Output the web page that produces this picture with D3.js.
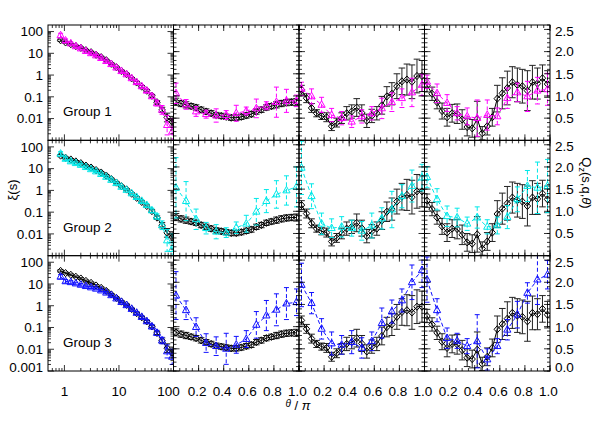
<!DOCTYPE html>
<html><head><meta charset="utf-8">
<script src="https://cdn.jsdelivr.net/npm/d3@7"></script>
<style>
body{margin:0;background:#fff}
svg{display:block}
text{font-family:"Liberation Sans",Arial,Helvetica,sans-serif;fill:#000}
</style>
</head><body>
<svg id="c" width="598" height="427"></svg>
<script>
// ---------------- DATA ----------------
const groupNames = ["Group 1", "Group 2", "Group 3"];
const groupColors = ["#ff00ff", "#00e8e8", "#1010ff"];

// separation s for the xi(s) column
const sValues = [0.851,1.05,1.31,1.62,2.00,2.48,3.08,3.81,4.72,5.85,7.24,8.97,11.1,13.8,17.1,21.1,26.2,32.4,40.2,49.8,61.7,76.4,94.6];
// reference (black) xi(s) - same in every row
const xiRef    = [39.8,31.6,26.3,21.4,17.8,13.8,11.2,8.51,6.61,4.79,3.31,2.29,1.55,1.10,0.708,0.457,0.295,0.191,0.112,0.0562,0.0251,0.0112,0.00708];
const xiRefErr = [0.05,0.04,0.04,0.04,0.04,0.04,0.04,0.04,0.04,0.04,0.04,0.04,0.04,0.04,0.04,0.05,0.05,0.05,0.06,0.08,0.12,0.2,0.25];
// groups xi(s)
const xiGroup1    = [66.1,38.0,28.2,20.9,16.6,12.6,10.0,7.94,6.03,4.37,3.16,2.19,1.51,1.07,0.708,0.468,0.302,0.191,0.105,0.0501,0.0251,0.00501,0.00251];
const xiGroup1Err = [0.1,0.08,0.07,0.06,0.06,0.05,0.05,0.05,0.05,0.05,0.05,0.05,0.05,0.05,0.05,0.06,0.06,0.08,0.1,0.12,0.2,0.45,0.6];
const xiGroup2    = [47.9,28.2,21.4,17.8,14.8,11.7,9.33,7.41,5.62,4.17,3.02,2.14,1.45,1.05,0.724,0.490,0.324,0.209,0.120,0.0631,0.0251,0.00501,0.00200];
const xiGroup2Err = [0.1,0.08,0.07,0.06,0.06,0.05,0.05,0.05,0.05,0.05,0.05,0.05,0.05,0.05,0.05,0.06,0.06,0.08,0.1,0.12,0.2,0.5,0.7];
const xiGroup3    = [21.4,13.2,12.0,10.5,9.12,7.94,6.92,6.03,5.01,3.98,3.02,2.14,1.48,1.05,0.708,0.468,0.302,0.191,0.110,0.0562,0.0251,0.00794,0.00447];
const xiGroup3Err = [0.1,0.08,0.07,0.06,0.06,0.05,0.05,0.05,0.05,0.05,0.05,0.05,0.05,0.05,0.05,0.06,0.06,0.08,0.1,0.12,0.15,0.3,0.35];

// theta / pi grids
const thetaFine   = [0.02,0.06,0.10,0.14,0.18,0.22,0.26,0.30,0.34,0.38,0.42,0.46,0.50,0.54,0.58,0.62,0.66,0.70,0.74,0.78,0.82,0.86,0.90,0.94,0.98];
const thetaCoarse = [0.02,0.10,0.18,0.26,0.34,0.42,0.50,0.58,0.66,0.74,0.82,0.90,0.98];

// reference (black) Q for the three theta columns
const qRefA    = [0.87,0.83,0.80,0.77,0.74,0.69,0.65,0.61,0.57,0.55,0.53,0.51,0.51,0.53,0.56,0.59,0.65,0.69,0.74,0.77,0.80,0.83,0.85,0.86,0.86];
const qRefAErr = [0.08,0.07,0.07,0.06,0.06,0.06,0.06,0.06,0.06,0.06,0.06,0.06,0.06,0.06,0.06,0.06,0.06,0.06,0.06,0.06,0.07,0.07,0.07,0.07,0.08];
const qRefB    = [1.14,0.95,0.73,0.61,0.55,0.52,0.32,0.40,0.50,0.61,0.65,0.74,0.62,0.44,0.55,0.61,0.79,0.99,1.05,1.22,1.33,1.37,1.32,1.45,1.45];
const qRefBErr = [0.1,0.1,0.1,0.08,0.08,0.1,0.1,0.1,0.12,0.15,0.15,0.2,0.18,0.15,0.15,0.15,0.2,0.22,0.25,0.28,0.3,0.35,0.38,0.38,0.35];
const qRefC    = [1.24,1.05,0.86,0.66,0.52,0.61,0.60,0.47,0.30,0.27,0.48,0.16,0.32,0.52,0.94,1.06,1.18,1.31,1.25,1.22,1.12,1.31,1.28,1.40,1.27];
const qRefCErr = [0.15,0.15,0.15,0.18,0.2,0.2,0.22,0.22,0.2,0.2,0.4,0.15,0.2,0.2,0.3,0.35,0.38,0.35,0.38,0.38,0.45,0.38,0.35,0.3,0.3];

// group Q values
const qG1A = [1.06,0.81,0.65,0.59,0.56,0.57,0.61,0.66,0.72,0.78,0.86,0.89,0.89];
const qG1AErr = [0.23,0.11,0.11,0.09,0.15,0.1,0.18,0.09,0.21,0.09,0.34,0.26,0.13];
const qG1B = [1.16,0.99,0.80,0.57,0.50,0.42,0.54,0.61,0.72,0.86,0.95,1.08,1.25];
const qG1BErr = [0.15,0.17,0.17,0.15,0.15,0.13,0.15,0.15,0.23,0.21,0.21,0.32,0.24];
const qG1C = [1.32,1.06,0.84,0.61,0.54,0.50,0.57,0.54,0.95,1.08,0.99,1.12,1.15];
const qG1CErr = [0.15,0.21,0.19,0.15,0.19,0.41,0.34,0.19,0.23,0.21,0.34,0.3,0.36];

const qG2A = [1.53,1.23,0.82,0.62,0.54,0.52,0.63,0.72,0.99,1.23,1.38,1.47,1.55];
const qG2AErr = [0.68,0.44,0.23,0.13,0.16,0.11,0.13,0.19,0.3,0.26,0.31,0.33,0.45];
const qG2B = [1.98,1.34,0.72,0.62,0.65,0.62,0.56,0.68,0.84,1.04,1.34,1.57,1.76];
const qG2BErr = [0.6,0.28,0.24,0.21,0.23,0.18,0.21,0.28,0.24,0.41,0.26,0.36,0.3];
const qG2C = [1.77,1.27,0.89,0.86,0.72,0.86,0.65,0.68,0.87,1.27,1.57,1.53,1.57];
const qG2CErr = [0.24,0.24,0.23,0.21,0.15,0.24,0.16,0.19,0.26,0.28,0.35,0.58,0.6];

const qG3A = [1.70,1.37,0.99,0.63,0.56,0.50,0.59,0.72,1.04,1.25,1.38,1.52,1.55];
const qG3AErr = [0.54,0.21,0.21,0.21,0.21,0.35,0.19,0.19,0.3,0.34,0.36,0.36,0.3];
const qG3B = [1.94,1.53,0.95,0.62,0.59,0.65,0.52,0.67,1.08,1.34,1.59,2.00,2.27];
const qG3BErr = [0.49,0.24,0.23,0.26,0.21,0.26,0.23,0.21,0.34,0.26,0.26,0.39,0.39];
const qG3C = [2.06,1.37,0.74,0.68,0.56,0.67,0.26,0.56,0.93,1.27,1.76,2.06,2.17];
const qG3CErr = [0.51,0.26,0.23,0.17,0.17,0.6,0.24,0.17,0.23,0.3,0.23,0.56,0.32];

// tick labels
const xiTickLabels = ["100","10","1","0.1","0.01","0.001"];
const sTickLabels = ["1","10","100"];
const thetaTickLabels = ["0.2","0.4","0.6","0.8","1.0"];
const qTickLabels = ["2.5","2.0","1.5","1.0","0.5","0.0"];

// ---------------- LAYOUT ----------------
const colX = [48, 173.5, 299, 424.5, 550];
const rowY = [25, 140.33, 255.67, 371];
const FS = 13.5;
const svg = d3.select("#c");

const groups = [
  {xi: xiGroup1, xiErr: xiGroup1Err, q: [qG1A,qG1B,qG1C], qErr: [qG1AErr,qG1BErr,qG1CErr]},
  {xi: xiGroup2, xiErr: xiGroup2Err, q: [qG2A,qG2B,qG2C], qErr: [qG2AErr,qG2BErr,qG2CErr]},
  {xi: xiGroup3, xiErr: xiGroup3Err, q: [qG3A,qG3B,qG3C], qErr: [qG3AErr,qG3BErr,qG3CErr]}
];
const qRefs = [qRefA, qRefB, qRefC];
const qRefErrs = [qRefAErr, qRefBErr, qRefCErr];

const defs = svg.append("defs");

function drawSeries(g, xs, ys, xv, yv, ev, o) {
  const lo = (v,e) => o.log ? v / Math.pow(10,e) : v - e;
  const hi = (v,e) => o.log ? v * Math.pow(10,e) : v + e;
  const dash = o.dashed ? "4,2.5" : null;
  // error bars
  const eb = g.append("g").attr("stroke", o.barColor).attr("stroke-width", 1).attr("fill","none");
  const cw = o.cap;
  yv.forEach((v,i) => {
    const x = xs(xv[i]), y1 = ys(hi(v,ev[i])), y2 = ys(lo(v,ev[i]));
    eb.append("line").attr("x1",x).attr("x2",x).attr("y1",y1).attr("y2",y2).attr("stroke-dasharray",dash);
    eb.append("line").attr("x1",x-cw).attr("x2",x+cw).attr("y1",y1).attr("y2",y1);
    eb.append("line").attr("x1",x-cw).attr("x2",x+cw).attr("y1",y2).attr("y2",y2);
  });
  // connecting line
  const line = d3.line().x((d,i) => xs(xv[i])).y(d => ys(d));
  g.append("path").attr("d", line(yv)).attr("fill","none")
    .attr("stroke", o.color).attr("stroke-width", 1).attr("stroke-dasharray", dash);
  // markers
  const sym = o.marker === "diamond" ? "M0,-3.6L3.2,0L0,3.6L-3.2,0Z" : "M0,-4.2L3.6,2.4L-3.6,2.4Z";
  g.append("g").selectAll("path").data(yv).join("path")
    .attr("transform", (d,i) => `translate(${xs(xv[i])},${ys(d)})`)
    .attr("d", sym).attr("fill","none").attr("stroke", o.color).attr("stroke-width", 1);
}

for (let r = 0; r < 3; r++) {
  for (let c = 0; c < 4; c++) {
    const x0 = colX[c], x1 = colX[c+1], y0 = rowY[r], y1 = rowY[r+1];
    let xs, ys;
    if (c === 0) {
      xs = d3.scaleLog().domain([0.5, 100]).range([x0, x1]);
      ys = d3.scaleLog().domain([0.001, 200]).range([y1, y0]);
    } else {
      xs = d3.scaleLinear().domain([0, 1]).range([x0, x1]);
      ys = d3.scaleLinear().domain([0, 2.6]).range([y1, y0]);
    }
    const id = `clip${r}${c}`;
    defs.append("clipPath").attr("id", id).append("rect")
      .attr("x", x0).attr("y", y0).attr("width", x1-x0).attr("height", y1-y0);
    const g = svg.append("g").attr("clip-path", `url(#${id})`);
    const grp = groups[r];
    if (c === 0) {
      drawSeries(g, xs, ys, sValues, xiRef, xiRefErr, {log:true, color:"#000", barColor:"#222", marker:"diamond", cap:3.2});
      drawSeries(g, xs, ys, sValues, grp.xi, grp.xiErr, {log:true, color:groupColors[r], barColor:groupColors[r], marker:"triangle", dashed:true, cap:2.5});
    } else {
      drawSeries(g, xs, ys, thetaFine, qRefs[c-1], qRefErrs[c-1], {color:"#000", barColor:"#222", marker:"diamond", cap:3.3});
      drawSeries(g, xs, ys, thetaCoarse, grp.q[c-1], grp.qErr[c-1], {color:groupColors[r], barColor:groupColors[r], marker:"triangle", dashed:true, cap:2.5});
    }

    // frame
    svg.append("rect").attr("x", x0).attr("y", y0).attr("width", x1-x0).attr("height", y1-y0)
      .attr("fill","none").attr("stroke","#000").attr("stroke-width",1);

    // ticks
    const tg = svg.append("g").attr("stroke","#000").attr("stroke-width",0.8);
    let xMaj, xMin, yMaj, yMin;
    if (c === 0) {
      xMaj = [1,10,100];
      xMin = [0.6,0.7,0.8,0.9,2,3,4,5,6,7,8,9,20,30,40,50,60,70,80,90];
      yMaj = [0.001,0.01,0.1,1,10,100];
      yMin = [];
      for (let d = -3; d <= 2; d++) for (let m = 2; m <= 9; m++) { const v = m*Math.pow(10,d); if (v < 200) yMin.push(v); }
    } else {
      xMaj = d3.range(0, 1.0001, 0.2);
      xMin = d3.range(0, 1.0001, 0.05);
      yMaj = d3.range(0, 2.5001, 0.5);
      yMin = d3.range(0, 2.6001, 0.1);
    }
    const tk = (vals, len, horiz) => vals.forEach(v => {
      if (horiz) {
        const x = xs(v);
        tg.append("line").attr("x1",x).attr("x2",x).attr("y1",y1).attr("y2",y1-len);
        tg.append("line").attr("x1",x).attr("x2",x).attr("y1",y0).attr("y2",y0+len);
      } else {
        const y = ys(v);
        tg.append("line").attr("x1",x0).attr("x2",x0+len).attr("y1",y).attr("y2",y);
        tg.append("line").attr("x1",x1).attr("x2",x1-len).attr("y1",y).attr("y2",y);
      }
    });
    tk(xMaj, 6, true); tk(xMin, 3, true); tk(yMaj, 6, false); tk(yMin, 3, false);

    // labels
    if (c === 0) {
      const n = r === 2 ? 6 : 5;
      xiTickLabels.slice(0, n).forEach(t => {
        let y = ys(+t);
        y = Math.min(y, y1 - 4);
        svg.append("text").attr("x", 43).attr("y", y).attr("dy","0.36em")
          .attr("text-anchor","end").attr("font-size", FS).text(t);
      });
      svg.append("text").attr("x", 63).attr("y", y1 - 24).attr("font-size", FS).text(groupNames[r]);
    }
    if (c === 3) {
      const n = r === 2 ? 6 : 5;
      qTickLabels.slice(0, n).forEach(t => {
        let y = ys(+t);
        y = Math.max(Math.min(y, y1 - 4), y0 + 6);
        svg.append("text").attr("x", 555).attr("y", y).attr("dy","0.36em")
          .attr("text-anchor","start").attr("font-size", FS).text(t);
      });
    }
    if (r === 2) {
      if (c === 0) {
        sTickLabels.forEach(t => {
          const x = xs(+t) - (t === "100" ? 5 : 0);
          svg.append("text").attr("x", x).attr("y", 395.5).attr("text-anchor","middle").attr("font-size", FS).text(t);
        });
      } else {
        thetaTickLabels.forEach(t => {
          svg.append("text").attr("x", xs(+t) - 1.5).attr("y", 395.5).attr("text-anchor","middle").attr("font-size", FS).text(t);
        });
      }
    }
  }
}

// axis titles
const xt = svg.append("text").attr("x", 298).attr("y", 410).attr("text-anchor","middle").attr("font-size", 13);
xt.append("tspan").attr("font-style","italic").attr("font-size", 10).attr("dy", -3).text("θ");
xt.append("tspan").attr("dy", 3).text(" / ");
xt.append("tspan").attr("font-style","italic").text("π");

svg.append("text").attr("transform","translate(17,190) rotate(-90)").attr("text-anchor","middle")
  .attr("font-size", 13).text("ξ(s)");

const rt = svg.append("text").attr("transform","translate(582,183) rotate(90)").attr("text-anchor","middle").attr("font-size", 13);
rt.append("tspan").text("Q");
rt.append("tspan").attr("font-size", 9).attr("dy", 3).text("z");
rt.append("tspan").attr("dy", -3).text("(s,q,");
rt.append("tspan").attr("font-style","italic").text("θ");
rt.append("tspan").text(")");
</script>
</body></html>
